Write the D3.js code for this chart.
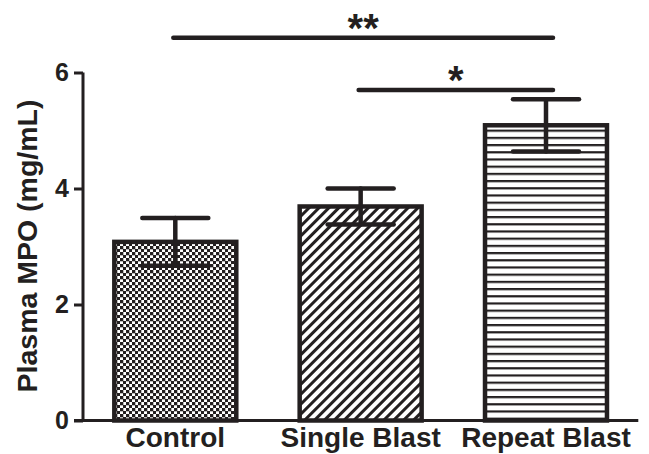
<!DOCTYPE html>
<html>
<head>
<meta charset="utf-8">
<script src="https://cdn.jsdelivr.net/npm/d3@7"></script>
<style>
  body { margin: 0; background: #fff; }
  text { font-family: "Liberation Sans", Arial, sans-serif; font-weight: bold; fill: #231f20; }
</style>
</head>
<body>
<div id="viz"></div>
<script>
// data
const categories = ["Control", "Single Blast", "Repeat Blast"];
const means = [3.08, 3.69, 5.09];
const sems = [0.41, 0.31, 0.45];
const patterns = ["checker", "diag", "horiz"];
const yTicks = [0, 2, 4, 6];
const brackets = [
    { from: "Control", to: "Repeat Blast", y: 6.6, label: "**" },
    { from: "Single Blast", to: "Repeat Blast", y: 5.7, label: "*" }
];

const width = 649, height = 454;
const ink = "#231f20";

const svg = d3.select("#viz").append("svg")
    .attr("width", width)
    .attr("height", height);

const defs = svg.append("defs");

// checkerboard
const chk = defs.append("pattern")
    .attr("id", "checker")
    .attr("patternUnits", "userSpaceOnUse")
    .attr("width", 6).attr("height", 6);
chk.append("rect").attr("width", 6).attr("height", 6).attr("fill", "#fff");
chk.append("rect").attr("width", 3.3).attr("height", 3.3).attr("fill", ink);
chk.append("rect").attr("x", 3).attr("y", 3).attr("width", 3.3).attr("height", 3.3).attr("fill", ink);

// diagonal hatch
const diag = defs.append("pattern")
    .attr("id", "diag")
    .attr("patternUnits", "userSpaceOnUse")
    .attr("width", 7).attr("height", 7)
    .attr("patternTransform", "rotate(45)");
diag.append("rect").attr("width", 7).attr("height", 7).attr("fill", "#fff");
diag.append("rect").attr("x", 0).attr("width", 3).attr("height", 7).attr("fill", ink);

// horizontal lines
const horiz = defs.append("pattern")
    .attr("id", "horiz")
    .attr("patternUnits", "userSpaceOnUse")
    .attr("width", 10).attr("height", 7.2);
horiz.append("rect").attr("width", 10).attr("height", 7.2).attr("fill", "#fff");
horiz.append("rect").attr("y", 0).attr("width", 10).attr("height", 2.2).attr("fill", ink);

const x = d3.scaleBand()
    .domain(categories)
    .range([83, 638.3])
    .paddingInner(0.342)
    .paddingOuter(0.169);

const y = d3.scaleLinear()
    .domain([0, 6])
    .range([420.5, 72.5]);

// bars
svg.selectAll(".bar")
    .data(categories)
    .enter()
    .append("rect")
    .attr("class", "bar")
    .attr("x", d => x(d))
    .attr("y", (d, i) => y(means[i]))
    .attr("width", x.bandwidth())
    .attr("height", (d, i) => y(0) - y(means[i]))
    .attr("fill", (d, i) => `url(#${patterns[i]})`)
    .attr("stroke", ink)
    .attr("stroke-width", 4.5);

// error bars
const capW = 66;
categories.forEach((c, i) => {
    const cx = x(c) + x.bandwidth() / 2;
    const g = svg.append("g")
        .attr("stroke", ink)
        .attr("stroke-width", 4.5)
        .attr("stroke-linecap", "round");
    g.append("line")
        .attr("x1", cx).attr("x2", cx)
        .attr("y1", y(means[i] - sems[i])).attr("y2", y(means[i] + sems[i]));
    [means[i] + sems[i], means[i] - sems[i]].forEach(v => {
        g.append("line")
            .attr("x1", cx - capW / 2).attr("x2", cx + capW / 2)
            .attr("y1", y(v)).attr("y2", y(v));
    });
});

// y axis
const yAxis = svg.append("g")
    .attr("transform", "translate(83,0)")
    .call(d3.axisLeft(y).tickValues(yTicks).tickSize(9).tickPadding(5).tickFormat(d3.format("d")));
yAxis.select(".domain").attr("stroke", ink).attr("stroke-width", 3)
    .attr("d", `M0,${y(6)}V${y(0)}`);
yAxis.selectAll(".tick line").attr("stroke", ink).attr("stroke-width", 3);
yAxis.selectAll(".tick text")
    .attr("font-size", "25px")
    .attr("font-family", "Liberation Sans, Arial, sans-serif")
    .attr("font-weight", "bold")
    .attr("fill", ink);

// x axis
const xAxis = svg.append("g")
    .attr("transform", `translate(0,${y(0)})`)
    .call(d3.axisBottom(x).tickSize(0).tickPadding(7));
xAxis.select(".domain").attr("stroke", ink).attr("stroke-width", 3)
    .attr("d", `M74,0H638.3`);
xAxis.selectAll(".tick text")
    .attr("font-size", "28px")
    .attr("font-family", "Liberation Sans, Arial, sans-serif")
    .attr("font-weight", "bold")
    .attr("fill", ink)
    .attr("dy", "0.71em");

// y label
svg.append("text")
    .attr("transform", "translate(37,246) rotate(-90)")
    .attr("text-anchor", "middle")
    .attr("font-size", "28.5px")
    .text("Plasma MPO (mg/mL)");

// significance brackets
brackets.forEach(b => {
    const x1 = x(b.from) + x.bandwidth() / 2 - 2;
    const x2 = x(b.to) + x.bandwidth() / 2 + 7;
    svg.append("line")
        .attr("x1", x1).attr("x2", x2)
        .attr("y1", y(b.y)).attr("y2", y(b.y))
        .attr("stroke", ink)
        .attr("stroke-width", 4.5)
        .attr("stroke-linecap", "round");
    svg.append("text")
        .attr("x", (x1 + x2) / 2)
        .attr("y", y(b.y) + 4)
        .attr("text-anchor", "middle")
        .attr("font-size", "40px")
        .text(b.label);
});
</script>
</body>
</html>
